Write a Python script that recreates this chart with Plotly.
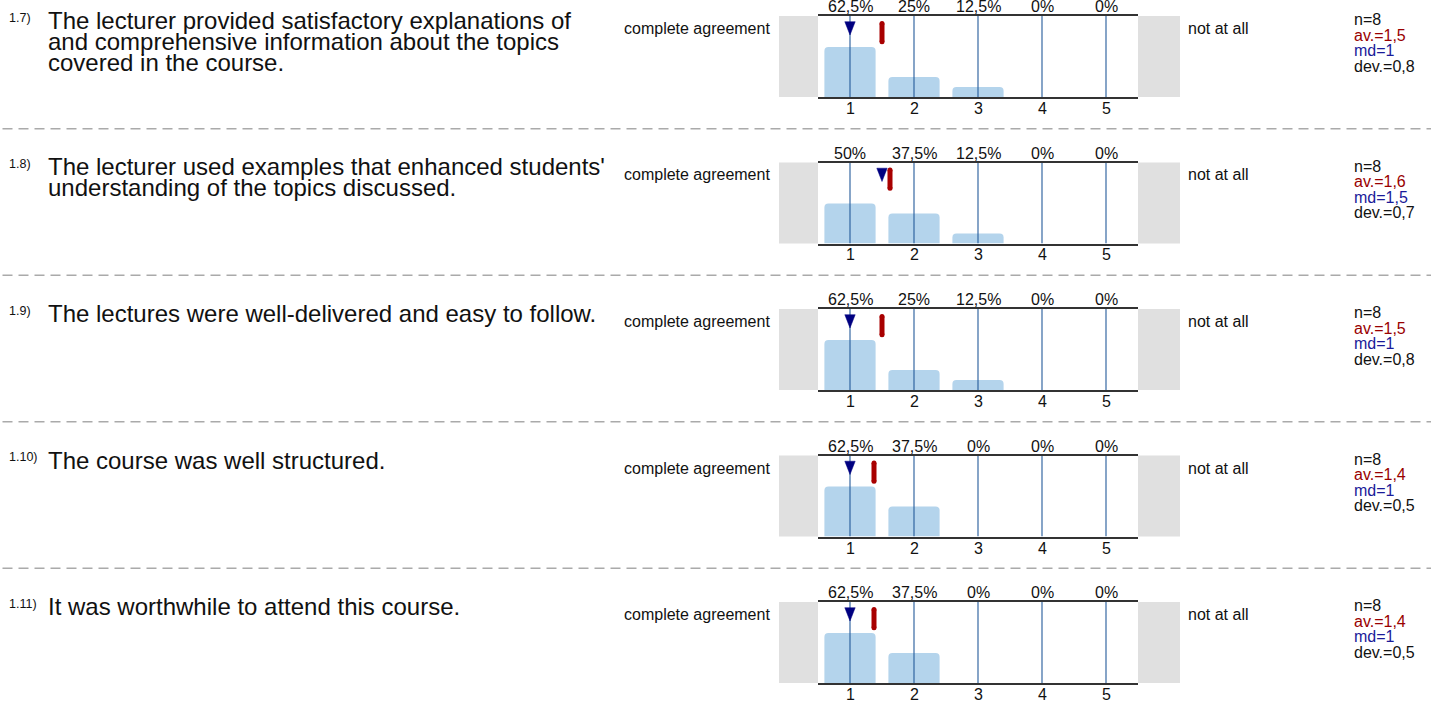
import plotly.graph_objects as go

# ---------------- data ----------------
categories = [1, 2, 3, 4, 5]
question_numbers = ["1.7)", "1.8)", "1.9)", "1.10)", "1.11)"]
question_lines = [
    ["The lecturer provided satisfactory explanations of",
     "and comprehensive information about the topics",
     "covered in the course."],
    ["The lecturer used examples that enhanced students'",
     "understanding of the topics discussed."],
    ["The lectures were well-delivered and easy to follow."],
    ["The course was well structured."],
    ["It was worthwhile to attend this course."],
]
dist_q1_7 = [62.5, 25, 12.5, 0, 0]
dist_q1_8 = [50, 37.5, 12.5, 0, 0]
dist_q1_9 = [62.5, 25, 12.5, 0, 0]
dist_q1_10 = [62.5, 37.5, 0, 0, 0]
dist_q1_11 = [62.5, 37.5, 0, 0, 0]
distributions = [dist_q1_7, dist_q1_8, dist_q1_9, dist_q1_10, dist_q1_11]
n_values = [8, 8, 8, 8, 8]
averages = [1.5, 1.625, 1.5, 1.375, 1.375]
medians = [1, 1.5, 1, 1, 1]
deviations = [0.8, 0.7, 0.8, 0.5, 0.5]
left_label = "complete agreement"
right_label = "not at all"

# ---------------- style / geometry ----------------
W, H = 1431, 701
PANEL_LEFT, PANEL_RIGHT = 818, 1138
PANEL_W = PANEL_RIGHT - PANEL_LEFT
PANEL_TOP0, PANEL_STEP, PANEL_H = 16, 146.5, 81
Y_MAX = 101.25                      # 100 % = 80 px
PX_Y = Y_MAX / PANEL_H              # data units per pixel (y)
PX_X = 5.0 / PANEL_W                # data units per pixel (x)
FONT = "Liberation Sans, Arial, Helvetica, sans-serif"
SMALL = 16
BAR_COLOR = "#b4d4ec"
GRID_COLOR = "#245a9a"
AXIS_COLOR = "#333333"
GRAY_BOX = "#e0e0e0"
AVG_COLOR = "#a80000"
MD_COLOR = "#000080"
AV_TEXT = "#990000"
MD_TEXT = "#1a1a99"
SEP_COLOR = "#aaaaaa"
TXT = "#111111"


def comma(v, fmt="g"):
    return format(v, fmt).replace(".", ",")


def ydata(offset_px):
    return Y_MAX - offset_px * PX_Y


def px(screen_x):
    return screen_x / W


fig = go.Figure()
shapes = []
annotations = []
layout_axes = {}

for i, dist in enumerate(distributions):
    sfx = "" if i == 0 else str(i + 1)
    xr, yr = "x" + sfx, "y" + sfx
    top = PANEL_TOP0 + i * PANEL_STEP
    y_dom = [1 - (top + PANEL_H) / H, 1 - top / H]

    # bars
    fig.add_trace(go.Bar(x=categories, y=dist, width=0.8, xaxis=xr, yaxis=yr,
                         marker=dict(color=BAR_COLOR, cornerradius=4, line=dict(width=0)),
                         hoverinfo="skip"))
    # vertical grid lines (above bars)
    gx, gy = [], []
    for c in categories:
        gx += [c, c, None]
        gy += [0, Y_MAX, None]
    fig.add_trace(go.Scatter(x=gx, y=gy, mode="lines", xaxis=xr, yaxis=yr,
                             line=dict(color=GRID_COLOR, width=1.1), hoverinfo="skip"))
    # average marker (rounded red bar)
    av = averages[i]
    fig.add_trace(go.Scatter(x=[av, av], y=[ydata(7.5), ydata(25.8)], mode="lines+markers",
                             xaxis=xr, yaxis=yr,
                             line=dict(color=AVG_COLOR, width=5),
                             marker=dict(color=AVG_COLOR, size=5, symbol="circle"),
                             hoverinfo="skip"))
    # median marker (downward triangle)
    md = medians[i]
    hw = 5.2 * PX_X
    fig.add_trace(go.Scatter(x=[md - hw, md + hw, md, md - hw],
                             y=[ydata(5.7), ydata(5.7), ydata(19), ydata(5.7)],
                             mode="lines", fill="toself", fillcolor=MD_COLOR,
                             line=dict(color=MD_COLOR, width=0.5),
                             xaxis=xr, yaxis=yr, hoverinfo="skip"))

    layout_axes["xaxis" + sfx] = dict(
        domain=[PANEL_LEFT / W, PANEL_RIGHT / W], anchor=yr, range=[0.5, 5.5],
        tickvals=categories, showticklabels=False,
        showgrid=False, zeroline=False, showline=True, mirror=True,
        linecolor=AXIS_COLOR, linewidth=2, ticks="", fixedrange=True)
    layout_axes["yaxis" + sfx] = dict(
        domain=y_dom, anchor=xr, range=[0, Y_MAX], visible=False, fixedrange=True)

    # gray side boxes
    shapes.append(dict(type="rect", xref=xr + " domain", yref=yr + " domain",
                       x0=-39 / PANEL_W, x1=0, y0=0, y1=1,
                       fillcolor=GRAY_BOX, line=dict(width=0), layer="below"))
    shapes.append(dict(type="rect", xref=xr + " domain", yref=yr + " domain",
                       x0=1, x1=1 + 42 / PANEL_W, y0=0, y1=1,
                       fillcolor=GRAY_BOX, line=dict(width=0), layer="below"))

    # percentage labels above the panel, category labels below
    for c, v in zip(categories, dist):
        annotations.append(dict(x=c, xref=xr, y=1, yref=yr + " domain", yanchor="middle",
                                yshift=9.3, text=comma(v) + "%", showarrow=False,
                                font=dict(family=FONT, size=SMALL, color=TXT)))
        annotations.append(dict(x=c, xref=xr, y=0, yref=yr + " domain", yanchor="middle",
                                yshift=-11.5, text=str(c), showarrow=False,
                                font=dict(family=FONT, size=SMALL, color=TXT)))
    # scale end labels
    annotations.append(dict(x=0, xref=xr + " domain", xshift=-46, xanchor="right",
                            y=1, yref=yr + " domain", yanchor="middle", yshift=-12.5,
                            text=left_label, showarrow=False,
                            font=dict(family=FONT, size=SMALL, color=TXT)))
    annotations.append(dict(x=1, xref=xr + " domain", xshift=48, xanchor="left",
                            y=1, yref=yr + " domain", yanchor="middle", yshift=-12.5,
                            text=right_label, showarrow=False,
                            font=dict(family=FONT, size=SMALL, color=TXT)))
    # statistics
    stats = [(f"n={n_values[i]}", TXT),
             (f"av.={comma(av, '.1f')}", AV_TEXT),
             (f"md={comma(md)}", MD_TEXT),
             (f"dev.={comma(deviations[i], '.1f')}", TXT)]
    for k, (txt, col) in enumerate(stats):
        annotations.append(dict(x=px(1352), xref="paper", xanchor="left",
                                y=1, yref=yr + " domain", yanchor="middle",
                                yshift=-(3.6 + 15.6 * k), text=txt, showarrow=False,
                                font=dict(family=FONT, size=SMALL, color=col)))
    # question number + text
    annotations.append(dict(x=px(7), xref="paper", xanchor="left",
                            y=1, yref=yr + " domain", yanchor="middle", yshift=-1.5,
                            text=question_numbers[i], showarrow=False,
                            font=dict(family=FONT, size=12.5, color=TXT)))
    for k, line in enumerate(question_lines[i]):
        annotations.append(dict(x=px(46), xref="paper", xanchor="left",
                                y=1, yref=yr + " domain", yanchor="middle",
                                yshift=-(4.5 + 21 * k), text=line, showarrow=False,
                                font=dict(family=FONT, size=24, color=TXT)))

    # dashed separator below the block
    if i < len(distributions) - 1:
        ysep = 1 - (top + 112.7) / H
        shapes.append(dict(type="line", xref="paper", yref="paper", x0=px(2.5), x1=1,
                           y0=ysep, y1=ysep,
                           line=dict(color=SEP_COLOR, width=1.5, dash="10px,6px")))

fig.update_layout(
    width=W, height=H, margin=dict(l=0, r=0, t=0, b=0),
    paper_bgcolor="white", plot_bgcolor="white", showlegend=False,
    barmode="overlay", shapes=shapes, annotations=annotations,
    font=dict(family=FONT, color=TXT), hovermode=False,
    **layout_axes)

# remove the default page margin so the chart fills the window from (0, 0)
fig.write_html("out.html",
               config={"displayModeBar": False, "staticPlot": True},
               post_script="document.body.style.margin='0';document.body.style.overflow='hidden';")
